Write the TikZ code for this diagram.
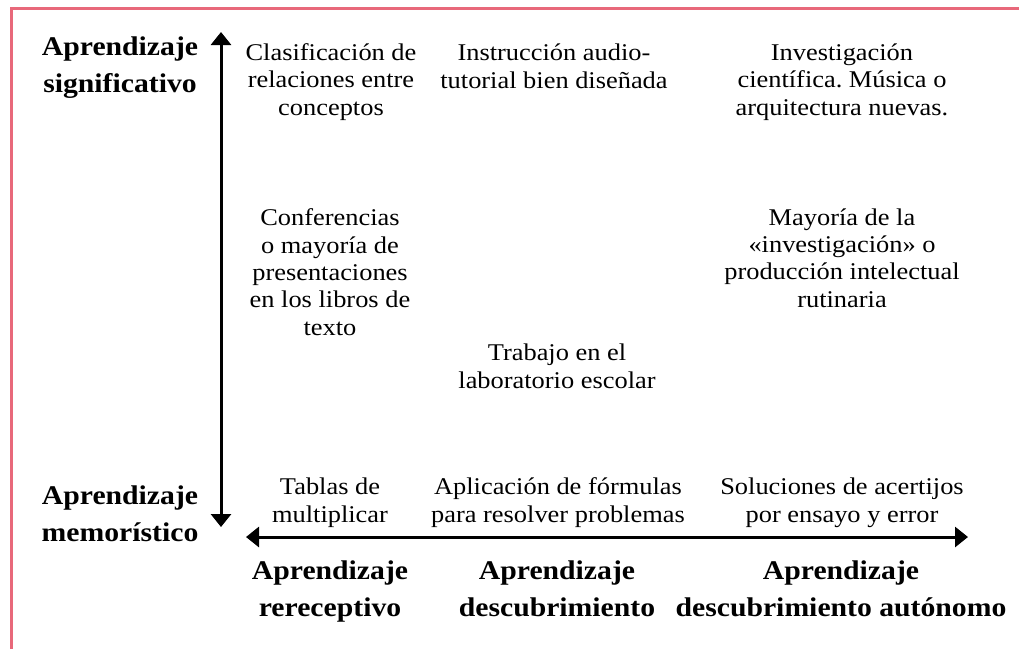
\documentclass[tikz,border=0pt]{standalone}
\usepackage{fontspec}
\setmainfont{Liberation Serif}[FakeStretch=1.1]
\frenchspacing
\usetikzlibrary{arrows.meta}
\definecolor{framered}{RGB}{232,104,122}
\begin{document}
\begin{tikzpicture}[x=1pt,y=-1pt,
  lbl/.style={align=center, inner sep=0pt, anchor=base, font=\fontsize{24}{27.3}\selectfont},
  blbl/.style={align=center, inner sep=0pt, anchor=base, font=\fontsize{27}{37}\selectfont\bfseries},
  axis/.style={line width=3pt, {Triangle[width=20pt,length=13pt]}-{Triangle[width=20pt,length=13pt]}},
  frame/.style={draw=framered, line width=3pt}]
\useasboundingbox (0,0) rectangle (1019,649);
\draw[frame] (11,649) -- (11,8.5) -- (1019,8.5);

% axes
\coordinate (vtop) at (221,32);
\coordinate (vbot) at (221,527);
\coordinate (hleft) at (246,537);
\coordinate (hright) at (968,537);
\draw[axis] (vbot) -- (vtop);
\draw[axis] (hleft) -- (hright);

% axis labels (anchor = baseline of last line)
\node[blbl] (sig) at (120,92) {Aprendizaje\\significativo};
\node[blbl] (mem) at (120,541) {Aprendizaje\\memorístico};
\node[blbl] (rec) at (330,616) {Aprendizaje\\rereceptivo};
\node[blbl] (desc) at (557,616) {Aprendizaje\\descubrimiento};
\node[blbl] (auto) at (841,616) {Aprendizaje\\descubrimiento autónomo};

% cells
\node[lbl] (clas) at (331,115) {Clasificación de\\relaciones entre\\conceptos};
\node[lbl] (instr) at (554,88) {Instrucción audio-\\tutorial bien diseñada};
\node[lbl] (inv) at (842,115) {Investigación\\científica. Música o\\arquitectura nuevas.};
\node[lbl] (conf) at (330,335) {Conferencias\\o mayoría de\\presentaciones\\en los libros de\\texto};
\node[lbl] (may) at (842,307) {Mayoría de la\\«investigación» o\\producción intelectual\\rutinaria};
\node[lbl] (trab) at (557,388) {Trabajo en el\\laboratorio escolar};
\node[lbl] (tab) at (330,522) {Tablas de\\multiplicar};
\node[lbl] (apl) at (558,522) {Aplicación de fórmulas\\para resolver problemas};
\node[lbl] (sol) at (842,522) {Soluciones de acertijos\\por ensayo y error};
\end{tikzpicture}
\end{document}
